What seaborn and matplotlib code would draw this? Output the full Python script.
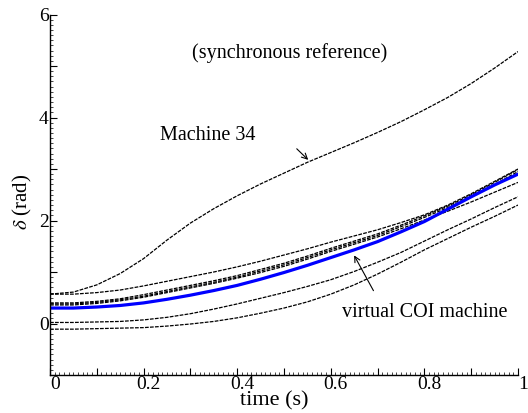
import matplotlib
matplotlib.use('Agg')
import matplotlib.pyplot as plt
import matplotlib.transforms as mtransforms
import seaborn as sns
from matplotlib.ticker import MultipleLocator

# rotor angles, time in s, delta in rad
time = [0.0, 0.05, 0.1, 0.15, 0.2, 0.25, 0.3, 0.35, 0.4, 0.45, 0.5,
        0.55, 0.6, 0.65, 0.7, 0.75, 0.8, 0.85, 0.9, 0.95, 1.0]
machine_34 = [0.57, 0.61, 0.75, 0.97, 1.26, 1.62, 1.95, 2.23, 2.48, 2.71, 2.92,
              3.13, 3.32, 3.51, 3.71, 3.92, 4.15, 4.39, 4.66, 4.96, 5.28]
machine_upper = [0.57, 0.57, 0.60, 0.65, 0.73, 0.82, 0.91, 1.00, 1.10, 1.21, 1.33,
                 1.45, 1.58, 1.70, 1.82, 1.96, 2.11, 2.30, 2.52, 2.76, 3.00]
cluster_a = [0.40, 0.40, 0.43, 0.48, 0.56, 0.65, 0.74, 0.83, 0.93, 1.05, 1.17,
             1.31, 1.46, 1.60, 1.74, 1.91, 2.09, 2.28, 2.50, 2.74, 2.99]
cluster_b = [0.38, 0.38, 0.41, 0.46, 0.53, 0.62, 0.71, 0.80, 0.90, 1.02, 1.14,
             1.28, 1.43, 1.57, 1.71, 1.88, 2.06, 2.25, 2.47, 2.70, 2.95]
cluster_c = [0.36, 0.36, 0.39, 0.44, 0.51, 0.60, 0.69, 0.78, 0.88, 0.99, 1.11,
             1.25, 1.40, 1.54, 1.68, 1.84, 2.01, 2.18, 2.36, 2.55, 2.74]
lower_a = [0.02, 0.02, 0.03, 0.04, 0.07, 0.12, 0.19, 0.28, 0.38, 0.49, 0.60,
           0.72, 0.85, 1.01, 1.19, 1.38, 1.60, 1.82, 2.03, 2.25, 2.46]
lower_b = [-0.11, -0.11, -0.10, -0.09, -0.08, -0.05, -0.01, 0.04, 0.11, 0.20, 0.30,
           0.42, 0.57, 0.75, 0.96, 1.19, 1.43, 1.65, 1.87, 2.08, 2.30]
coi = [0.30, 0.30, 0.32, 0.35, 0.40, 0.47, 0.55, 0.64, 0.74, 0.86, 0.99,
       1.13, 1.28, 1.43, 1.59, 1.78, 1.98, 2.22, 2.46, 2.69, 2.90]

sns.set_style('ticks')
plt.rcParams['font.family'] = ['Liberation Serif', 'DejaVu Serif']
plt.rcParams['mathtext.fontset'] = 'stix'
plt.rcParams['text.color'] = 'black'
plt.rcParams['axes.labelcolor'] = 'black'

fig = plt.figure(figsize=(5.28, 4.13), dpi=100)
ax = fig.add_axes([50 / 528, 38 / 413, 468 / 528, 360.5 / 413])

for y in [machine_34, machine_upper, cluster_a, cluster_b, cluster_c, lower_a, lower_b]:
    sns.lineplot(x=time, y=y, ax=ax, color='black', lw=0.9, linestyle=(0, (3, 1)))
sns.lineplot(x=time, y=coi, ax=ax, color='#0000ff', lw=2.3)

ax.set_xlim(0, 1)
ax.set_ylim(-1, 6)
ax.set_xticks([i / 10 for i in range(11)])
ax.set_xticklabels(['0', '', '0.2', '', '0.4', '', '0.6', '', '0.8', '', '1'])
ax.set_yticks(range(-1, 7))
ax.set_yticklabels(['', '0', '', '2', '', '4', '', '6'])
ax.xaxis.set_minor_locator(MultipleLocator(0.01))
ax.yaxis.set_minor_locator(MultipleLocator(0.1))
ax.tick_params(which='major', direction='in', length=5, width=0.8,
               labelsize=14, pad=1, colors='black')
ax.tick_params(which='minor', direction='in', length=2, width=0.6)
shift = mtransforms.ScaledTranslation(5 / 100, 0, fig.dpi_scale_trans)
for lab in ax.get_xticklabels():
    lab.set_transform(lab.get_transform() + shift)
sns.despine(ax=ax)
for s in ['left', 'bottom']:
    ax.spines[s].set_linewidth(1.0)
    ax.spines[s].set_color('black')

ax.set_xlabel('time (s)', fontsize=16)
ax.xaxis.set_label_coords(0.48, -0.045)
ax.set_ylabel(r'$\delta$ (rad)', fontsize=15)
ax.yaxis.set_label_coords(-0.035, 0.48)

ax.text(0.513, 5.25, '(synchronous reference)', ha='center', va='center', fontsize=14.5)
ax.text(0.235, 3.66, 'Machine 34', ha='left', va='center', fontsize=14.5)
ax.annotate('', xy=(0.556, 3.14), xytext=(0.523, 3.43),
            arrowprops=dict(arrowstyle='->', lw=0.8, color='black'))
ax.text(0.624, 0.22, 'virtual COI machine', ha='left', va='center', fontsize=14.5)
ax.annotate('', xy=(0.647, 1.37), xytext=(0.694, 0.59),
            arrowprops=dict(arrowstyle='->', lw=0.8, color='black'))

fig.savefig('out.png', dpi=100)
